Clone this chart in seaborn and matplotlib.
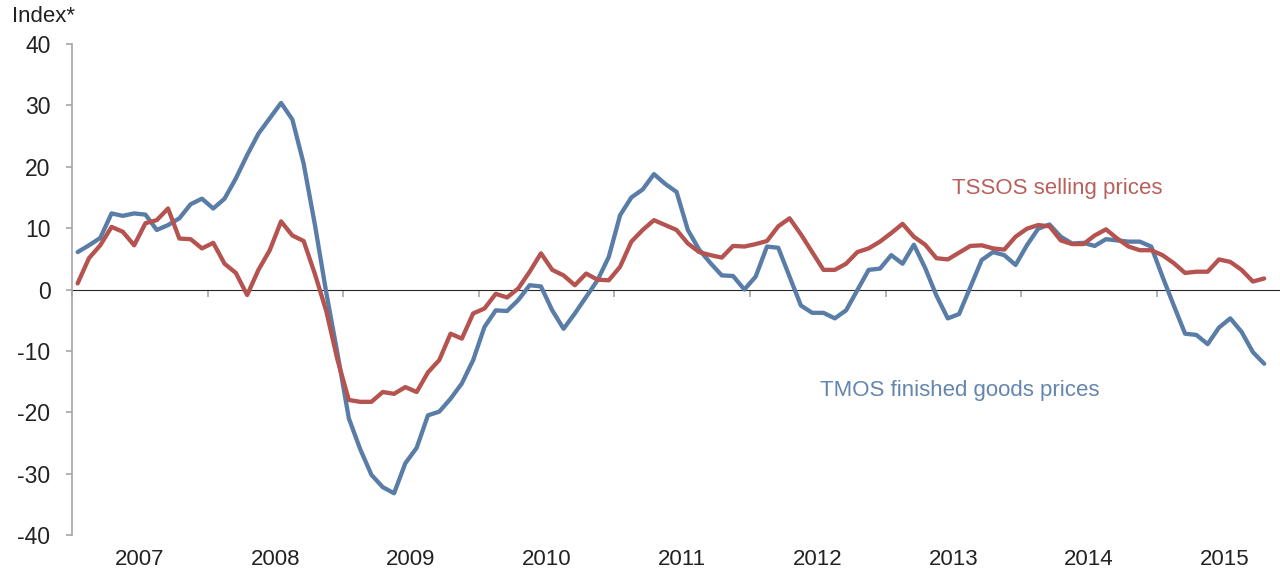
import numpy as np
import pandas as pd
import seaborn as sns
import matplotlib.pyplot as plt

# Monthly readings, Jan 2007 - Oct 2015
years = [2007, 2008, 2009, 2010, 2011, 2012, 2013, 2014, 2015]

tmos = [6.1, 7.2, 8.4, 12.4, 12.0, 12.4, 12.2, 9.7, 10.5, 11.6, 13.9, 14.8,
        13.2, 14.8, 18.1, 21.9, 25.4, 27.9, 30.4, 27.7, 20.5, 10.5, -0.5, -10.5,
        -21.0, -26.0, -30.2, -32.2, -33.2, -28.3, -25.8, -20.5, -19.9, -17.8, -15.3, -11.5,
        -6.1, -3.4, -3.5, -1.7, 0.7, 0.5, -3.4, -6.4, -3.9, -1.2, 1.5, 5.3,
        12.1, 15.0, 16.3, 18.8, 17.2, 15.9, 9.7, 6.5, 4.3, 2.3, 2.2, 0.0,
        2.1, 7.0, 6.8, 2.1, -2.6, -3.8, -3.8, -4.7, -3.4, -0.1, 3.2, 3.4,
        5.6, 4.2, 7.3, 3.5, -1.0, -4.7, -4.0, 0.4, 4.8, 6.1, 5.6, 4.0,
        7.2, 9.9, 10.6, 8.6, 7.5, 7.6, 7.1, 8.2, 8.0, 7.8, 7.8, 7.0,
        2.1, -2.6, -7.2, -7.4, -8.9, -6.2, -4.7, -6.9, -10.2, -12.1]

tssos = [1.0, 5.1, 7.2, 10.2, 9.4, 7.2, 10.8, 11.3, 13.2, 8.3, 8.2, 6.7,
         7.6, 4.2, 2.7, -0.9, 3.2, 6.4, 11.1, 8.8, 7.9, 2.5, -3.5, -11.5,
         -18.0, -18.3, -18.3, -16.7, -17.0, -15.9, -16.7, -13.5, -11.5, -7.2, -8.0, -3.9,
         -3.1, -0.7, -1.3, 0.2, 2.9, 5.9, 3.2, 2.3, 0.7, 2.6, 1.6, 1.5,
         3.7, 7.8, 9.7, 11.3, 10.5, 9.7, 7.5, 6.1, 5.6, 5.2, 7.1, 7.0,
         7.4, 7.9, 10.3, 11.6, 9.0, 6.1, 3.2, 3.2, 4.2, 6.1, 6.7, 7.8,
         9.2, 10.7, 8.6, 7.3, 5.1, 4.9, 6.0, 7.1, 7.2, 6.7, 6.5, 8.6,
         9.9, 10.5, 10.3, 8.0, 7.4, 7.4, 8.8, 9.8, 8.3, 7.0, 6.4, 6.4,
         5.6, 4.3, 2.7, 2.9, 2.9, 4.9, 4.5, 3.2, 1.3, 1.8]

df = pd.DataFrame({'month': np.arange(len(tmos)), 'TMOS': tmos, 'TSSOS': tssos})

blue = '#5A7DA8'
red = '#B4534F'
grey = '#A6A6A6'

sns.set_style('white')
plt.rcParams['font.family'] = ['Liberation Sans', 'DejaVu Sans']
plt.rcParams['axes.unicode_minus'] = False

fig = plt.figure(figsize=(12.8, 5.73), dpi=100)
ax = fig.add_axes([0.05625, 0.0663, 0.94375, 0.8569])

sns.lineplot(data=df, x='month', y='TMOS', color=blue, linewidth=3.1, ax=ax)
sns.lineplot(data=df, x='month', y='TSSOS', color=red, linewidth=3.1, ax=ax)

ax.set_xlim(-0.5, 106.4)
ax.set_ylim(-40, 40)
ax.set_xlabel('')
ax.set_ylabel('')

for s in ['top', 'right', 'bottom']:
    ax.spines[s].set_visible(False)
ax.spines['left'].set_color(grey)
ax.spines['left'].set_linewidth(1.2)

ax.set_yticks(range(-40, 41, 10))
ax.tick_params(axis='y', left=True, direction='out', length=4.5, width=1.2, color=grey,
               pad=11, labelsize=16.5, labelcolor='#222222')

# year labels centred in each year, no tick marks
ax.set_xticks([12 * k + 5.5 for k in range(len(years))])
ax.set_xticklabels([str(y) for y in years])
ax.tick_params(axis='x', bottom=True, length=0, pad=10, labelsize=16, labelcolor='#222222')

# zero line carries the year-boundary ticks
zero = ax.secondary_xaxis(0.5)
zero.set_xticks([12 * k - 0.5 for k in range(len(years))])
zero.set_xticklabels([])
zero.tick_params(bottom=True, direction='out', length=5, width=1.2, color=grey)
zero.spines['bottom'].set_color(grey)
zero.spines['bottom'].set_linewidth(1.2)
zero.xaxis.set_ticks_position('bottom')

ax.text(77.4, 16.5, 'TSSOS selling prices', color='#B9605C', fontsize=16,
        va='center', ha='left')
ax.text(65.7, -16.5, 'TMOS finished goods prices', color='#6485AE', fontsize=16,
        va='center', ha='left')

fig.text(0.009, 0.972, 'Index*', fontsize=16, color='#222222', va='center', ha='left')

fig.savefig('out.png', dpi=100)
